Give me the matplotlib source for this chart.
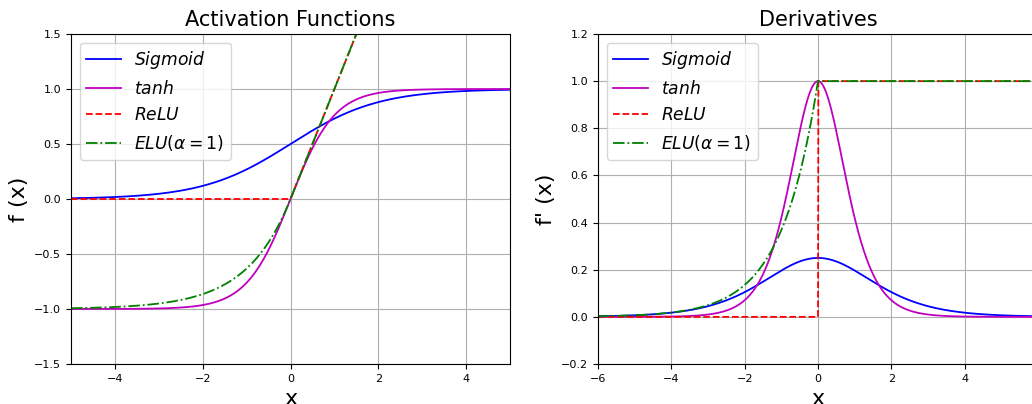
import matplotlib
matplotlib.use("Agg")
import matplotlib.pyplot as plt
import numpy as np

# x ranges for the two panels
x_left = np.linspace(-5, 5, 1001)
x_right = np.linspace(-6, 6, 1201)
alpha = 1.0

labels = [r"$Sigmoid$", r"$tanh$", r"$ReLU$", r"$ELU(\alpha=1)$"]
colors = ["b", "m", "r", "g"]
styles = ["-", "-", "--", "-."]


def sigmoid(x):
    return 1.0 / (1.0 + np.exp(-x))


def activations(x):
    s = sigmoid(x)
    return [s, np.tanh(x), np.maximum(0, x), np.where(x > 0, x, alpha * (np.exp(x) - 1))]


def derivatives(x):
    s = sigmoid(x)
    return [s * (1 - s), 1 - np.tanh(x) ** 2, np.where(x > 0, 1.0, 0.0),
            np.where(x > 0, 1.0, alpha * np.exp(x))]


fig = plt.figure(figsize=(10.32, 4.04), dpi=100)
ax1 = fig.add_axes([71 / 1032, 40 / 404, 439 / 1032, 330 / 404])
ax2 = fig.add_axes([598 / 1032, 40 / 404, 440 / 1032, 330 / 404])

for y, lab, c, ls in zip(activations(x_left), labels, colors, styles):
    ax1.plot(x_left, y, color=c, linestyle=ls, label=lab, linewidth=1.3)
ax1.set_xlim(-5, 5)
ax1.set_ylim(-1.5, 1.5)
ax1.set_title("Activation Functions", fontsize=15)
ax1.set_xlabel("x", fontsize=16)
ax1.set_ylabel("f (x)", fontsize=16)

for y, lab, c, ls in zip(derivatives(x_right), labels, colors, styles):
    ax2.plot(x_right, y, color=c, linestyle=ls, label=lab, linewidth=1.3)
ax2.set_xlim(-6, 6)
ax2.set_ylim(-0.2, 1.2)
ax2.set_title("Derivatives", fontsize=15)
ax2.set_xlabel("x", fontsize=16)
ax2.set_ylabel("f' (x)", fontsize=16)

for ax in (ax1, ax2):
    ax.grid(True)
    ax.tick_params(labelsize=8)
    ax.legend(loc="upper left", fontsize=12.3)

fig.savefig("out.png", dpi=100)
